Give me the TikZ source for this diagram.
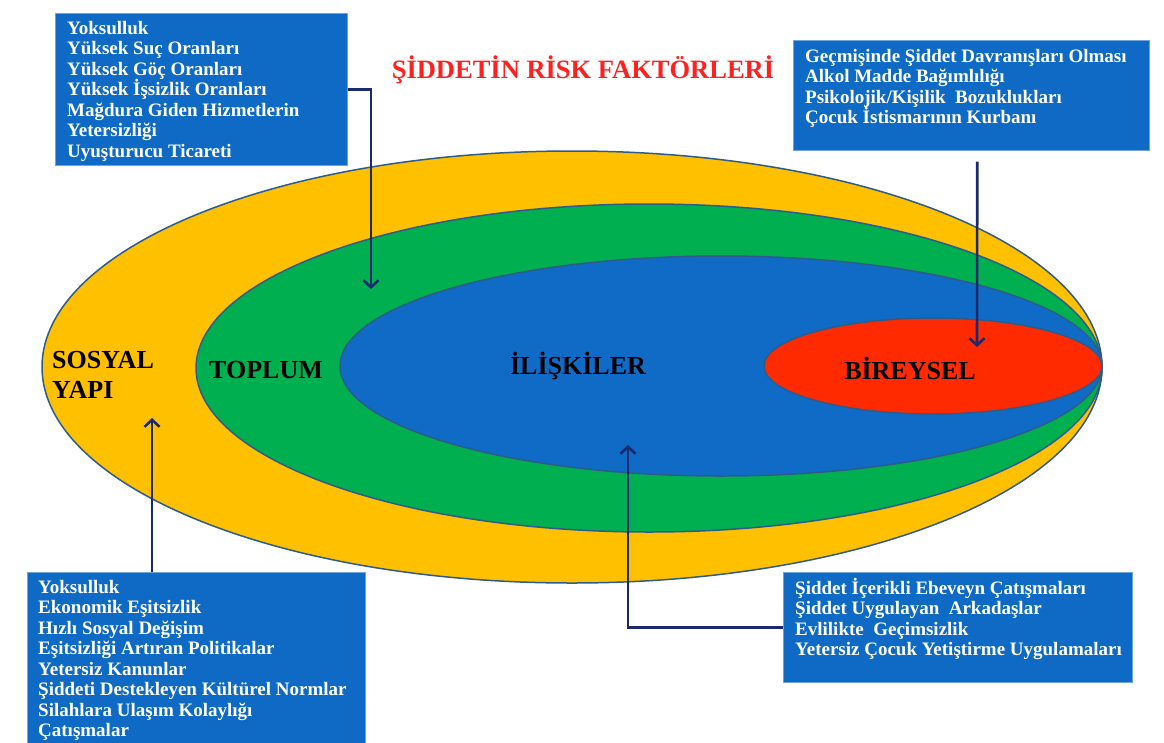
\documentclass[tikz,border=0pt]{standalone}
\usepackage{fontspec}
\setmainfont{Liberation Serif}
\usetikzlibrary{arrows.meta,calc}
\definecolor{sari}{HTML}{FFC000}
\definecolor{yesil}{HTML}{00B050}
\definecolor{mavi}{HTML}{0F6BC6}
\definecolor{kirmizi}{HTML}{FF2A00}
\definecolor{cizgi}{HTML}{2E5C8A}
\definecolor{lacivert}{HTML}{1B2A6E}
\definecolor{baslikrengi}{HTML}{FF2020}
\definecolor{kutumavi}{HTML}{0E6AC5}

\tikzset{
  katman/.style={draw=cizgi, line width=1.5},
  kutu/.style={fill=kutumavi, draw=kutumavi!60!white, line width=0.6, inner sep=0, anchor=north west},
  yazi/.style={text=white, align=left, inner sep=0, anchor=north west, font=\fontsize{19}{20.5}\selectfont\bfseries},
  etiket/.style={font=\fontsize{26}{30}\selectfont\bfseries, inner sep=0},
  ok/.style={draw=lacivert, line width=2.6, -{Straight Barb[length=7,width=15]}}
}

\begin{document}
\begin{tikzpicture}[x=1pt,y=-1pt]
\useasboundingbox (0,0) rectangle (1164,742);

% katmanlar
\filldraw[katman, fill=sari] (572,367) ellipse [x radius=530, y radius=216];
\filldraw[katman, fill=yesil] (649,368) ellipse [x radius=453, y radius=164];
\filldraw[katman, fill=mavi] (721,366) ellipse [x radius=381, y radius=110];
\filldraw[katman, fill=kirmizi] (933,366) ellipse [x radius=169, y radius=48];

\node[etiket, align=left, anchor=west] (sosyal) at (52,375) {SOSYAL\\YAPI};
\node[etiket] (toplum) at (266,370) {TOPLUM};
\node[etiket] (iliski) at (578,366) {İLİŞKİLER};
\node[etiket] (birey) at (910,368) {BİREYSEL};

\node[font=\fontsize{26.5}{30}\selectfont\bfseries, text=baslikrengi] (baslik) at (583,70) {ŞİDDETİN RİSK FAKTÖRLERİ};

% kutular
\node[kutu, minimum width=292, minimum height=152] (toplumkutu) at (55,13) {};
\node[yazi] (toplumyazi) at (67,21) {Yoksulluk\\Yüksek Suç Oranları\\Yüksek Göç Oranları\\Yüksek İşsizlik Oranları\\Mağdura Giden Hizmetlerin\\Yetersizliği\\Uyuşturucu Ticareti};

\node[kutu, minimum width=356, minimum height=110] (bireykutu) at (793,40) {};
\node[yazi] (bireyyazi) at (805,49) {Geçmişinde Şiddet Davranışları Olması\\Alkol Madde Bağımlılığı\\Psikolojik/Kişilik\ \ Bozuklukları\\Çocuk İstismarının Kurbanı};

\node[kutu, minimum width=338, minimum height=180] (sosyalkutu) at (27,572) {};
\node[yazi] (sosyalyazi) at (38,580) {Yoksulluk\\Ekonomik Eşitsizlik\\Hızlı Sosyal Değişim\\Eşitsizliği Artıran Politikalar\\Yetersiz Kanunlar\\Şiddeti Destekleyen Kültürel Normlar\\Silahlara Ulaşım Kolaylığı\\Çatışmalar};

\node[kutu, minimum width=349, minimum height=110] (iliskikutu) at (783,572) {};
\node[yazi] (iliskiyazi) at (795,578) {Şiddet İçerikli Ebeveyn Çatışmaları\\Şiddet Uygulayan\ \ Arkadaşlar\\Evlilikte\ \ Geçimsizlik\\Yetersiz Çocuk Yetiştirme Uygulamaları};

% oklar
\coordinate (toplumuc) at (371,289);
\coordinate (bireyuc) at (977,347);
\coordinate (sosyaluc) at (152,418);
\coordinate (iliskiuc) at (628,445);

\draw[ok] (toplumkutu.east) -| (toplumuc);
\draw[ok, shorten <=11] ([xshift=6]bireykutu.south) -- (bireyuc);
\draw[ok] (sosyalkutu.north -| sosyaluc) -- (sosyaluc);
\draw[ok] (iliskikutu.west) -| (iliskiuc);

\end{tikzpicture}
\end{document}
